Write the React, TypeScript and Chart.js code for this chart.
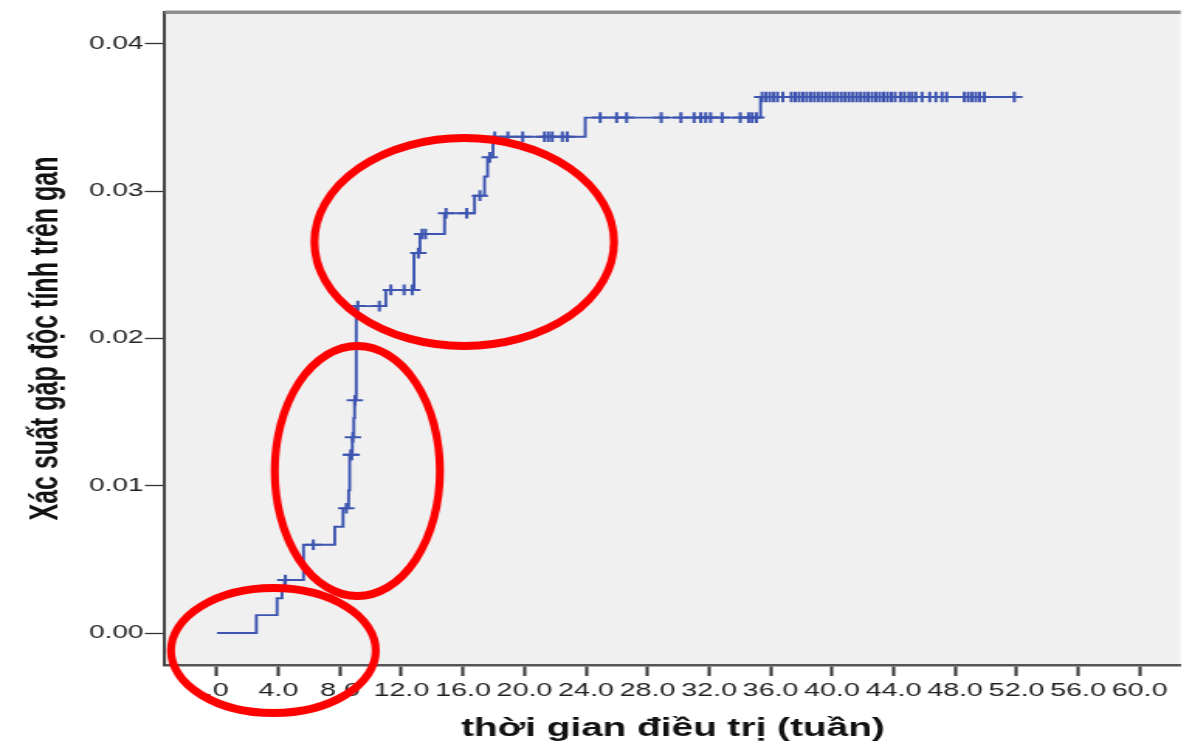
import React, { useEffect, useRef } from "react";
import { Chart, registerables } from "chart.js";

Chart.register(...registerables);

// The reference picture is horizontally stretched; we render on a narrower
// canvas and let CSS stretch it to the page width.
const STRETCH = 1.55;
const PAGE_W = 1192;
const PAGE_H = 744;
const CANVAS_W = Math.round(PAGE_W / STRETCH);
const CANVAS_H = PAGE_H;

// Step curve: time (weeks) of each event and cumulative probability after it
const eventTimes = [
  0, 2.56, 3.91, 4.23, 4.4, 5.63, 7.66, 8.2, 8.56, 8.63, 8.8, 8.9, 8.95, 9.06,
  10.98, 12.81, 13.2, 14.8, 16.75, 17.4, 17.6, 17.95, 23.95, 35.35, 52.3,
];
const eventValues = [
  0, 0.00122, 0.00236, 0.0029, 0.0036, 0.006, 0.00722, 0.00847, 0.0097, 0.0121,
  0.0133, 0.0146, 0.0158, 0.0222, 0.0233, 0.0258, 0.0271, 0.0285, 0.0297, 0.031,
  0.0323, 0.0337, 0.035, 0.0364, 0.0364,
];

// Censored observations (times, weeks)
const censorTimes = [
  4.45, 6.27, 8.41, 8.7, 8.76, 8.84, 8.97, 9.16, 10.56, 11.31, 12.17, 12.7,
  13.1, 13.34, 13.56, 14.9, 16.24, 17.1, 17.74, 18.06, 18.92, 19.88, 21.3,
  21.55, 21.8, 22.46, 22.78, 24.92, 25.99, 26.64, 28.89, 30.17, 31.03, 31.46,
  31.78, 32.1, 32.85, 34.03, 34.57, 34.8, 35.08, 35.45, 35.7, 35.95, 36.2,
  36.45, 36.8, 37.35, 37.6, 37.85, 38.1, 38.35, 38.6, 38.85, 39.1, 39.35, 39.6,
  39.85, 40.1, 40.35, 40.6, 40.85, 41.1, 41.35, 41.6, 41.85, 42.1, 42.35, 42.6,
  42.85, 43.1, 43.35, 43.6, 43.85, 44.1, 44.45, 44.7, 45.0, 45.2, 45.45, 45.85,
  46.35, 46.75, 47.15, 47.45, 48.6, 48.85, 49.1, 49.35, 49.6, 49.9, 51.85,
];

const xTickValues = [0, 4, 8, 12, 16, 20, 24, 28, 32, 36, 40, 44, 48, 52, 56, 60];
const xTickLabels = [
  ".0", "4.0", "8.0", "12.0", "16.0", "20.0", "24.0", "28.0", "32.0", "36.0",
  "40.0", "44.0", "48.0", "52.0", "56.0", "60.0",
];
const yTickValues = [0, 0.01, 0.02, 0.03, 0.04];
const yTickLabels = ["0.00", "0.01", "0.02", "0.03", "0.04"];

const xTitle = "thời gian điều trị (tuần)";
const yTitle = "Xác suất gặp độc tính trên gan";

// Red highlight ellipses, in data units: centre x, centre y, radius x, radius y
const ellipseCx = [3.67, 9.13, 16.08];
const ellipseCy = [-0.00119, 0.011, 0.02655];
const ellipseRx = [6.66, 5.37, 9.74];
const ellipseRy = [0.00424, 0.00849, 0.00706];

const X_MIN = -3.376;
const X_MAX = 62.67;
const Y_MIN = -0.00217;
const Y_MAX = 0.04217;

function levelAt(t: number): number {
  let v = eventValues[0];
  for (let i = 0; i < eventTimes.length; i++) {
    if (eventTimes[i] <= t) v = eventValues[i];
  }
  return v;
}

const FONT = '"Liberation Sans", Arial, Helvetica, sans-serif';

const plotDecor = {
  id: "plotDecor",
  beforeDraw(chart: any) {
    const { ctx, chartArea } = chart;
    ctx.save();
    ctx.fillStyle = "#f0f0f0";
    ctx.fillRect(
      chartArea.left,
      chartArea.top,
      chartArea.right - chartArea.left,
      chartArea.bottom - chartArea.top
    );
    ctx.restore();
  },
  afterDraw(chart: any) {
    const { ctx, chartArea, scales } = chart;
    ctx.save();
    // top frame line
    ctx.fillStyle = "#8e8e8e";
    ctx.fillRect(chartArea.left, chartArea.top - 1.5, chartArea.right - chartArea.left, 3.5);
    ctx.restore();

    // red ellipses drawn in page space so the stroke is even
    const xs = scales.x;
    const ys = scales.y;
    ctx.save();
    ctx.scale(1 / STRETCH, 1);
    ctx.strokeStyle = "#ff0000";
    ctx.lineWidth = 8;
    for (let i = 0; i < ellipseCx.length; i++) {
      const cx = xs.getPixelForValue(ellipseCx[i]) * STRETCH;
      const cy = ys.getPixelForValue(ellipseCy[i]);
      const rx = (xs.getPixelForValue(ellipseCx[i] + ellipseRx[i]) - xs.getPixelForValue(ellipseCx[i])) * STRETCH;
      const ry = ys.getPixelForValue(ellipseCy[i]) - ys.getPixelForValue(ellipseCy[i] + ellipseRy[i]);
      ctx.beginPath();
      ctx.ellipse(cx, cy, Math.abs(rx), Math.abs(ry), 0, 0, Math.PI * 2);
      ctx.stroke();
    }
    ctx.restore();
  },
};

export default function App() {
  const canvasRef = useRef<HTMLCanvasElement | null>(null);

  useEffect(() => {
    const canvas = canvasRef.current;
    if (!canvas) return;

    const curve = eventTimes.map((t, i) => ({ x: t, y: eventValues[i] }));
    const censored = censorTimes.map((t) => ({ x: t, y: levelAt(t) }));
    const lineColor = "#3d55b0";

    const chart = new Chart(canvas, {
      type: "line",
      data: {
        datasets: [
          {
            type: "line",
            label: "Cumulative",
            data: curve,
            stepped: true,
            borderColor: lineColor,
            borderWidth: 1.9,
            pointRadius: 0,
            fill: false,
          },
          {
            type: "scatter",
            label: "Censored",
            data: censored,
            showLine: false,
            pointStyle: "cross",
            pointRadius: 5.3,
            pointBorderColor: lineColor,
            pointBorderWidth: 2,
            borderColor: lineColor,
            backgroundColor: lineColor,
          },
        ],
      } as any,
      options: {
        animation: false,
        responsive: false,
        devicePixelRatio: 1,
        layout: { padding: { top: 12, left: 0, right: 0, bottom: 0 } },
        plugins: {
          legend: { display: false },
          tooltip: { enabled: false },
        },
        scales: {
          x: {
            type: "linear",
            min: X_MIN,
            max: X_MAX,
            afterBuildTicks: (scale: any) => {
              scale.ticks = xTickValues.map((v) => ({ value: v }));
            },
            afterFit: (scale: any) => {
              scale.height = PAGE_H - 665;
              scale.paddingLeft = 0;
              scale.paddingRight = 0;
            },
            ticks: {
              autoSkip: false,
              maxRotation: 0,
              minRotation: 0,
              padding: 4,
              color: "#1e1e1e",
              font: { family: FONT, size: 18.5 },
              callback: (_v: any, i: number) => xTickLabels[i],
            },
            grid: {
              display: true,
              drawOnChartArea: false,
              drawTicks: true,
              tickLength: 11,
              tickWidth: 2,
              tickColor: "#333",
            },
            border: { display: true, color: "#555", width: 2.5 },
            title: {
              display: true,
              text: xTitle,
              color: "#111",
              font: { family: FONT, size: 25, weight: "bold" },
              padding: { top: 0, bottom: 0 },
            },
          },
          y: {
            type: "linear",
            min: Y_MIN,
            max: Y_MAX,
            afterBuildTicks: (scale: any) => {
              scale.ticks = yTickValues.map((v) => ({ value: v }));
            },
            afterFit: (scale: any) => {
              scale.width = 165 / STRETCH;
              scale.paddingTop = 0;
              scale.paddingBottom = 0;
            },
            ticks: {
              autoSkip: false,
              padding: 1,
              color: "#222",
              font: { family: FONT, size: 18 },
              callback: (_v: any, i: number) => yTickLabels[i],
            },
            grid: {
              display: true,
              drawOnChartArea: false,
              drawTicks: true,
              tickLength: 13,
              tickWidth: 1.3,
              tickColor: "#333",
            },
            border: { display: true, color: "#444", width: 2 },
            title: {
              display: true,
              text: yTitle,
              color: "#111",
              font: { family: FONT, size: 25, weight: "bold" },
              padding: { top: 15, bottom: 0 },
            },
          },
        },
      } as any,
      plugins: [plotDecor],
    });

    return () => {
      chart.destroy();
    };
  }, []);

  return (
    <div
      style={{
        position: "fixed",
        left: 0,
        top: 0,
        width: PAGE_W,
        height: PAGE_H,
        background: "#ffffff",
      }}
    >
      <canvas
        ref={canvasRef}
        width={CANVAS_W}
        height={CANVAS_H}
        style={{ width: PAGE_W + "px", height: PAGE_H + "px", display: "block" }}
      />
    </div>
  );
}
